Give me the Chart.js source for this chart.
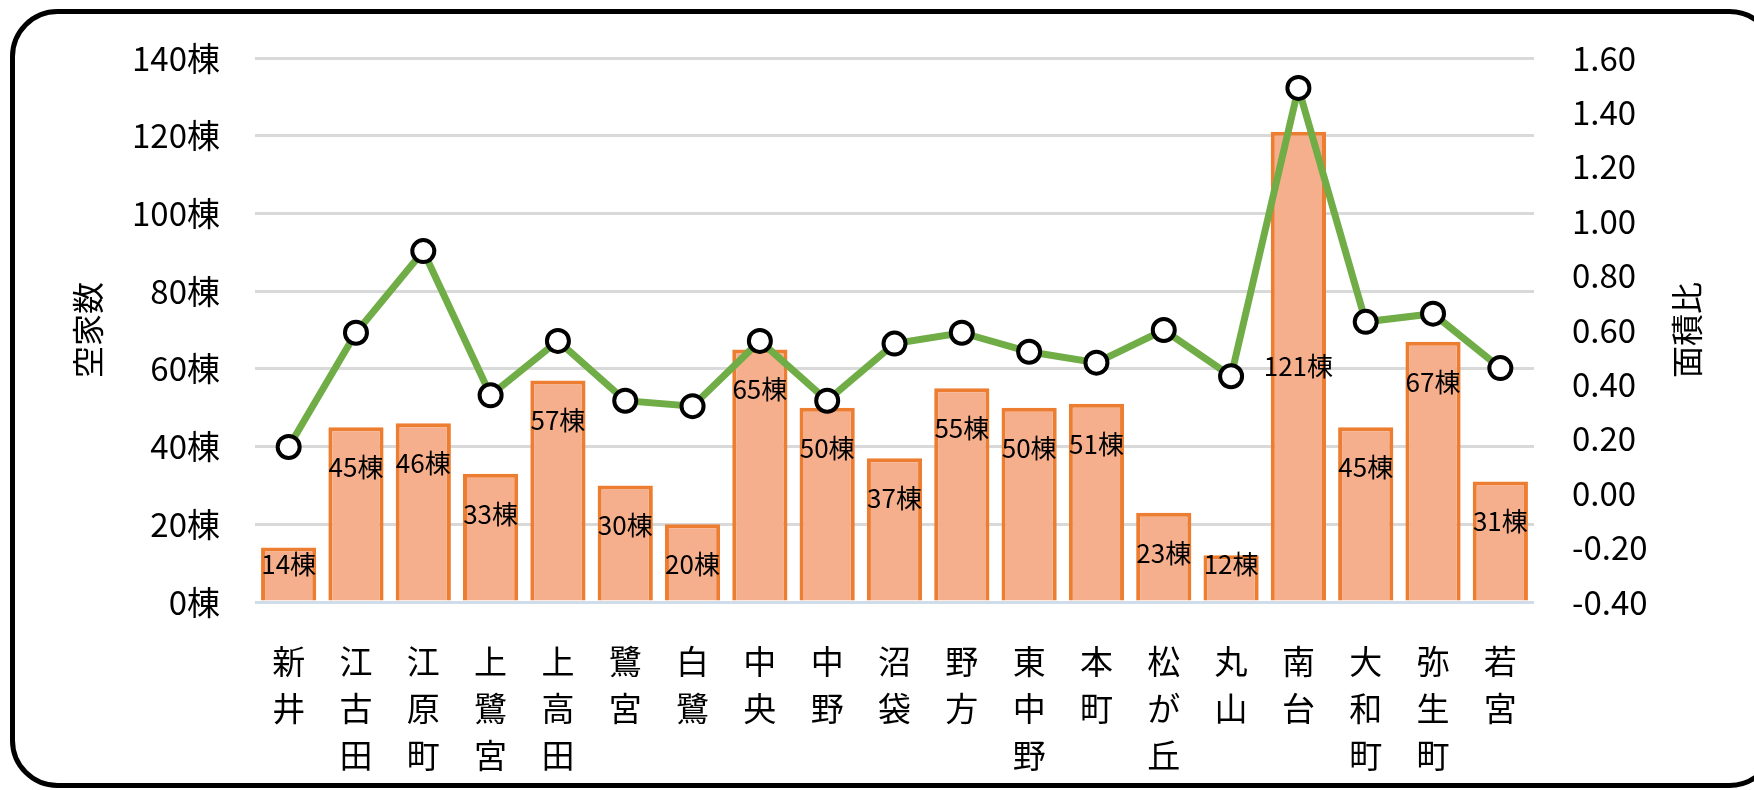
<!DOCTYPE html>
<html><head><meta charset="utf-8">
<script src="https://cdn.jsdelivr.net/npm/chart.js@4.4.1/dist/chart.umd.min.js"></script>
<style>html,body{margin:0;padding:0;background:#fff;overflow:hidden}#wrap{position:relative;width:1754px;height:790px}</style>
</head><body><div id="wrap"><canvas id="c" width="1754" height="790"></canvas></div>
<script>
const categories = ['新井','江古田','江原町','上鷺宮','上高田','鷺宮','白鷺','中央','中野','沼袋','野方','東中野','本町','松が丘','丸山','南台','大和町','弥生町','若宮'];
const vacantHouses = [14,45,46,33,57,30,20,65,50,37,55,50,51,23,12,121,45,67,31];
const areaRatio = [0.17,0.59,0.89,0.36,0.56,0.34,0.32,0.56,0.34,0.55,0.59,0.52,0.48,0.60,0.43,1.49,0.63,0.66,0.46];
const leftTicks = [0,20,40,60,80,100,120,140];
const rightTicks = [-0.4,-0.2,0,0.2,0.4,0.6,0.8,1.0,1.2,1.4,1.6];
const unit = '棟';
const leftTitle = '空家数';
const rightTitle = '面積比';
const centeredLabels = [15];

const FONT = '"Noto Sans CJK JP", "Noto Sans", sans-serif';

const frame = {
  id:'frame',
  beforeDraw(chart){
    const ctx = chart.ctx;
    ctx.save();
    ctx.fillStyle = '#fff';
    ctx.fillRect(0,0,chart.width,chart.height);
    ctx.lineWidth = 5;
    ctx.strokeStyle = '#000';
    ctx.beginPath();
    ctx.roundRect(12.5, 11.5, 1762, 774, 45);
    ctx.stroke();
    ctx.restore();
  }
};

const barLabels = {
  id:'barLabels',
  afterDatasetsDraw(chart){
    const meta = chart.getDatasetMeta(1);
    const ctx = chart.ctx;
    ctx.save();
    ctx.font = '26px ' + FONT;
    ctx.fillStyle = '#000';
    ctx.textAlign = 'center';
    ctx.textBaseline = 'middle';
    meta.data.forEach((bar, i) => {
      const top = bar.y, base = bar.base;
      const y = centeredLabels.includes(i) ? (top + base) / 2 : Math.min(top + 40, base - 36);
      ctx.fillText(vacantHouses[i] + unit, bar.x, y);
    });
    ctx.restore();
  }
};

const rightTitlePlugin = {
  id:'rightTitle',
  afterDraw(chart){
    const s = chart.scales.y1;
    const ctx = chart.ctx;
    ctx.save();
    ctx.translate(s.right - 67, (s.top + s.bottom) / 2);
    ctx.rotate(-Math.PI / 2);
    ctx.font = '32px ' + FONT;
    ctx.fillStyle = '#000';
    ctx.textAlign = 'center';
    ctx.textBaseline = 'middle';
    ctx.fillText(rightTitle, 0, 0);
    ctx.restore();
  }
};

new Chart(document.getElementById('c'), {
  data: {
    labels: categories.map(c => Array.from(c)),
    datasets: [
      {
        type: 'line',
        label: rightTitle,
        data: areaRatio,
        yAxisID: 'y1',
        borderColor: '#70AD47',
        borderWidth: 7,
        pointRadius: 11,
        pointBorderWidth: 4,
        pointBackgroundColor: '#fff',
        pointBorderColor: '#000',
        tension: 0,
        order: 0
      },
      {
        type: 'bar',
        label: leftTitle,
        data: vacantHouses,
        yAxisID: 'y',
        backgroundColor: '#F5AF8D',
        borderColor: '#ED7D31',
        borderWidth: 4,
        barPercentage: 0.82,
        categoryPercentage: 1.0,
        order: 1
      }
    ]
  },
  options: {
    responsive: false,
    devicePixelRatio: 1,
    animation: false,
    layout: { padding: { top: 58, left: 0, right: 0, bottom: 0 } },
    plugins: { legend: { display: false }, tooltip: { enabled: false } },
    scales: {
      x: {
        grid: { display: false },
        border: { display: false },
        ticks: { color: '#000', font: { family: FONT, size: 33, lineHeight: 1.42 }, padding: 28, maxRotation: 0, autoSkip: false },
        afterFit(s){ s.height = 188; }
      },
      y: {
        position: 'left',
        min: 0, max: 140,
        afterBuildTicks(s){ s.ticks = leftTicks.map(v => ({ value: v })); },
        grid: {
          drawTicks: false,
          lineWidth: 3,
          color: ctx => (ctx.tick && ctx.tick.value === 0) ? '#CFDCEA' : '#D9D9D9'
        },
        border: { display: false },
        ticks: { color: '#000', font: { family: FONT, size: 33 }, padding: 35, callback: v => v + unit },
        title: { display: true, text: leftTitle, color: '#000', font: { family: FONT, size: 32 }, padding: { top: 69, bottom: 0 } },
        afterFit(s){ s.width = 255; }
      },
      y1: {
        position: 'right',
        min: -0.4, max: 1.6,
        afterBuildTicks(s){ s.ticks = rightTicks.map(v => ({ value: v })); },
        grid: { display: false, drawTicks: false },
        border: { display: false },
        ticks: { color: '#000', font: { family: FONT, size: 33 }, padding: 38, callback: v => Number(v).toFixed(2) },
        afterFit(s){ s.width = 220; }
      }
    }
  },
  plugins: [frame, barLabels, rightTitlePlugin]
});
</script>
</body></html>
